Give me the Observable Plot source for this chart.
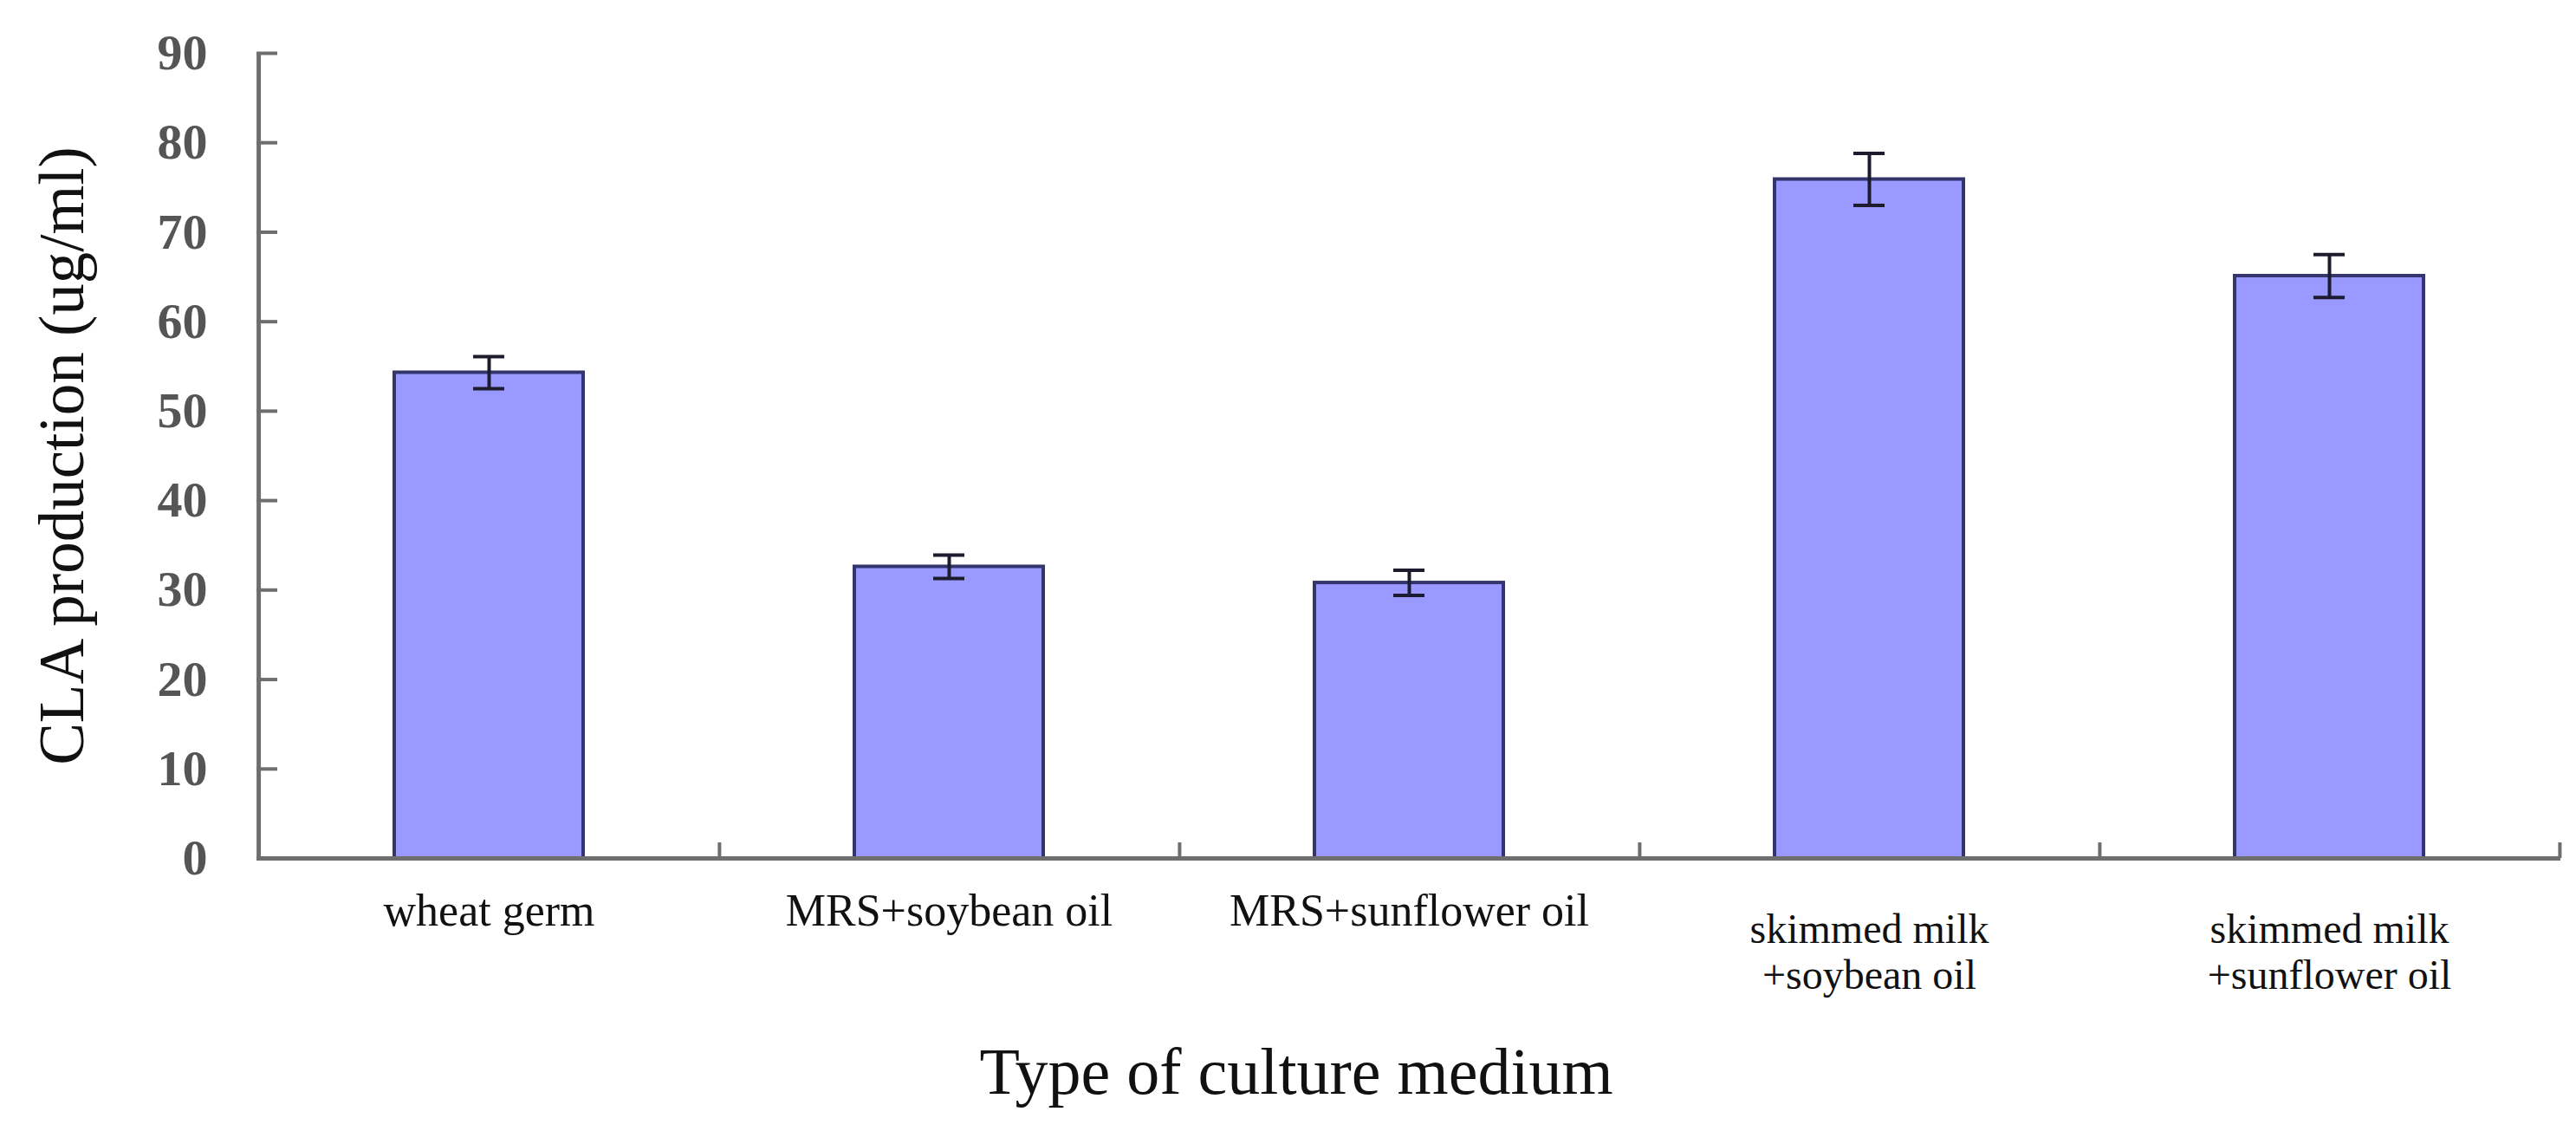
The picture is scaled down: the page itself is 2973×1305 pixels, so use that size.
<!DOCTYPE html>
<html><head><meta charset="utf-8">
<script src="https://cdn.jsdelivr.net/npm/d3@7"></script>
<script src="https://cdn.jsdelivr.net/npm/@observablehq/plot@0.6"></script>
<style>
body{margin:0;background:#fff}
g[aria-label="y-axis tick label"] text{font-weight:bold}
</style>
</head><body><div id="chart"></div>
<script>
const categories = ["wheat germ", "MRS+soybean oil", "MRS+sunflower oil", "skimmed milk+soybean oil", "skimmed milk+sunflower oil"];
const tickLabels = ["wheat germ", "MRS+soybean oil", "MRS+sunflower oil", "skimmed milk\n+soybean oil", "skimmed milk\n+sunflower oil"];
const values = [54.3, 32.6, 30.8, 75.9, 65.1];
const errors = [1.8, 1.3, 1.4, 2.9, 2.4];
const yTicks = [0, 10, 20, 30, 40, 50, 60, 70, 80, 90];
const yLabel = "CLA production (ug/ml)";
const xLabel = "Type of culture medium";

const data = categories.map((c, i) => ({cat: c, label: tickLabels[i], value: values[i], lo: values[i] - errors[i], hi: values[i] + errors[i]}));

const W = 2973, H = 1305, mL = 296, mR = 18, mT = 61, mB = 315;
const plotW = W - mL - mR, plotH = H - mT - mB;
const step = plotW / categories.length;
const axisColor = "#6e6e6e";

const chart = Plot.plot({
  width: W, height: H,
  marginLeft: mL, marginRight: mR, marginTop: mT, marginBottom: mB,
  style: {fontFamily: "'Liberation Serif', 'Times New Roman', serif", background: "#fff", color: "#111"},
  x: {type: "band", domain: categories, paddingInner: 0.59, paddingOuter: 0.295, align: 0.5, axis: null},
  y: {domain: [0, 90]},
  marks: [
    Plot.barY(data, {x: "cat", y: "value", fill: "#9999ff", stroke: "#35356e", strokeWidth: 4}),
    Plot.ruleX(data, {x: "cat", y1: "lo", y2: "hi", stroke: "#1c1c2e", strokeWidth: 4}),
    Plot.tickY(data, {x: "cat", y: "hi", insetLeft: 91, insetRight: 91, stroke: "#1c1c2e", strokeWidth: 4}),
    Plot.tickY(data, {x: "cat", y: "lo", insetLeft: 91, insetRight: 91, stroke: "#1c1c2e", strokeWidth: 4}),
    Plot.ruleY(yTicks, {insetRight: plotW - 24, stroke: axisColor, strokeWidth: 4}),
    Plot.ruleX(categories, {dx: step / 2, insetTop: plotH - 18, stroke: axisColor, strokeWidth: 4}),
    Plot.ruleX([categories[0]], {dx: -step / 2, stroke: axisColor, strokeWidth: 5}),
    Plot.ruleY([0], {stroke: axisColor, strokeWidth: 5}),
    Plot.axisY({ticks: yTicks, tickSize: 0, tickPadding: 57, fontSize: 58, fontWeight: "bold", color: "#555", label: null}),
    Plot.text(data.filter(d => !d.label.includes("\n")), {x: "cat", text: "label", frameAnchor: "bottom", lineAnchor: "top", dy: 41, fontSize: 52, fill: "#111"}),
    Plot.text(data.filter(d => d.label.includes("\n")), {x: "cat", text: "label", frameAnchor: "bottom", lineAnchor: "top", dy: 59, lineHeight: 1.12, fontSize: 48, fill: "#111"}),
    Plot.text([xLabel], {frameAnchor: "bottom", lineAnchor: "bottom", dx: -130, dy: 271, fontSize: 76, fill: "#111"}),
    Plot.text([yLabel], {frameAnchor: "left", textAnchor: "middle", rotate: -90, dx: -224, fontSize: 73, fill: "#111"})
  ]
});
document.getElementById("chart").appendChild(chart);
</script>
</body></html>
